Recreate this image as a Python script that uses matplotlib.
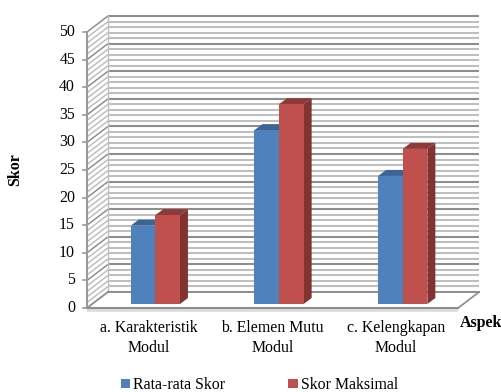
import matplotlib
matplotlib.use("Agg")
import matplotlib.pyplot as plt
from matplotlib.transforms import ScaledTranslation
import numpy as np

categories = ["a. Karakteristik\nModul", "b. Elemen Mutu\nModul", "c. Kelengkapan\nModul"]
rata_rata = [14.2, 31.5, 23.2]
maksimal = [16.1, 36.2, 28.1]
y_ticks = [0, 5, 10, 15, 20, 25, 30, 35, 40, 45, 50]

plt.rcParams["font.family"] = ["Liberation Serif", "DejaVu Serif"]

# one category is 123.7 px wide and one score unit 5.52 px tall
X_PX = 123.7
Y_PX = 5.52
FIG_W, FIG_H = 502, 392
ORIGIN_X, ORIGIN_Y = 87, 308
DEPTH_X = 21 / X_PX
DEPTH_Y = 16 / Y_PX
BAR_W = 24.6 / X_PX
BAR_DX = 8 / X_PX
BAR_DY = 6 / Y_PX
BAR_SHIFT_X = 6.5 / X_PX
BAR_SHIFT_Y = 4 / Y_PX
FONT = 11.4

MAJOR = "#8e8e8e"
MINOR = "#bfbfbf"


def drawWalls(ax):
    n = len(categories)
    for v in range(0, 51):
        major = v % 5 == 0
        color = MAJOR if major else MINOR
        z = 2 if major else 1
        ax.plot([DEPTH_X, n + DEPTH_X], [v + DEPTH_Y, v + DEPTH_Y], color=color, lw=1.5, zorder=z, solid_capstyle="butt")
        ax.plot([0, DEPTH_X], [v, v + DEPTH_Y], color=color, lw=1.1, zorder=z, solid_capstyle="butt")
    ax.plot([DEPTH_X, DEPTH_X], [DEPTH_Y, 50 + DEPTH_Y], color=MINOR, lw=1.0, zorder=2)
    # floor
    ax.fill(
        [0, n, n + DEPTH_X, DEPTH_X],
        [0, 0, DEPTH_Y, DEPTH_Y],
        facecolor="white", edgecolor="none", zorder=3,
    )
    ax.plot([DEPTH_X, n + DEPTH_X], [DEPTH_Y, DEPTH_Y], color=MAJOR, lw=1.4, zorder=3)
    ax.plot([0, DEPTH_X], [0, DEPTH_Y], color=MAJOR, lw=1.25, zorder=3)
    ax.plot([n, n + DEPTH_X], [0, DEPTH_Y], color=MAJOR, lw=1.25, zorder=3)
    # soft line under the front edge of the floor
    shadow = ax.transData + ScaledTranslation(0, -1.5 / 100, ax.figure.dpi_scale_trans)
    ax.plot([0, n], [0, 0], color="#dcdcdc", lw=2.6, zorder=3, solid_capstyle="butt", transform=shadow)
    ax.plot([0, n], [0, 0], color=MAJOR, lw=1.5, zorder=3.1)
    ax.plot([0, 0], [0, 50], color="#9a9a9a", lw=1.5, zorder=3.1)
    for v in y_ticks:
        ax.plot([-4.5 / X_PX, 0], [v, v], color=MAJOR, lw=1.1, zorder=3)
        ax.text(-12 / X_PX, v, str(v), ha="right", va="center", fontsize=FONT, color="black")


def drawBars(ax, x, values, face, top, side, label):
    bottom = BAR_SHIFT_Y
    bars = ax.bar(x, values, width=BAR_W, bottom=bottom, align="edge", color=face, label=label, zorder=5, linewidth=0)
    for xi, v in zip(x, values):
        t = bottom + v
        ax.fill(
            [xi, xi + BAR_W, xi + BAR_W + BAR_DX, xi + BAR_DX],
            [t, t, t + BAR_DY, t + BAR_DY],
            facecolor=top, edgecolor="none", zorder=4.5,
        )
        ax.fill(
            [xi + BAR_W, xi + BAR_W + BAR_DX, xi + BAR_W + BAR_DX, xi + BAR_W],
            [bottom, bottom + BAR_DY, t + BAR_DY, t],
            facecolor=side, edgecolor="none", zorder=4.5,
        )
    return bars


def main():
    fig = plt.figure(figsize=(FIG_W / 100, FIG_H / 100), dpi=100)
    ax = fig.add_axes([0, 0, 1, 1])
    ax.set_xlim(-ORIGIN_X / X_PX, (FIG_W - ORIGIN_X) / X_PX)
    ax.set_ylim((ORIGIN_Y - FIG_H) / Y_PX, ORIGIN_Y / Y_PX)
    ax.axis("off")

    drawWalls(ax)

    centers = np.arange(len(categories)) + 0.5 + BAR_SHIFT_X
    blue_x = centers - BAR_W
    red_x = centers
    drawBars(ax, blue_x, rata_rata, "#4f81bd", "#3c6595", "#3c6595", "Rata-rata Skor")
    # red sits in front of the blue side face
    drawBars(ax, red_x, maksimal, "#c0504d", "#8e3a38", "#803331", "Skor Maksimal")

    for i, name in enumerate(categories):
        ax.text(i + 0.5, -12.5 / Y_PX, name, ha="center", va="top", fontsize=FONT, linespacing=1.3, color="black")

    ax.text(15.5 / FIG_W, 1 - 170 / FIG_H, "Skor", transform=ax.transAxes, rotation=90, ha="center", va="center", fontsize=11.5, fontweight="bold")
    ax.text(460 / FIG_W, 1 - 323 / FIG_H, "Aspek", transform=ax.transAxes, ha="left", va="center", fontsize=11.5, fontweight="bold")

    ax.legend(
        loc="center left", bbox_to_anchor=(121 / FIG_W, 1 - 385 / FIG_H), ncol=2, frameon=False,
        fontsize=FONT, handlelength=0.57, handleheight=0.57, handletextpad=0.19, columnspacing=4.0,
        borderpad=0, borderaxespad=0,
    )

    fig.savefig("out.png", dpi=100)
    plt.close(fig)


if __name__ == "__main__":
    main()
